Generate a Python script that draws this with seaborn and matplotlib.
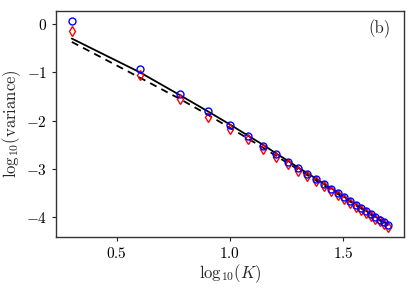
import numpy as np
import pandas as pd
import matplotlib
matplotlib.use("Agg")
import matplotlib.pyplot as plt
import seaborn as sns

K = [2, 4, 6, 8, 10, 12, 14, 16, 18, 20, 22, 24, 26, 28, 30, 32, 34, 36, 38, 40, 42, 44, 46, 48, 50]
blue_vals = [0.06, -0.93, -1.44, -1.81, -2.09, -2.32, -2.52, -2.70, -2.85, -2.98, -3.10, -3.21, -3.31,
             -3.41, -3.50, -3.59, -3.66, -3.74, -3.81, -3.87, -3.93, -3.99, -4.05, -4.10, -4.16]
red_vals = [-0.15, -1.06, -1.55, -1.92, -2.18, -2.39, -2.58, -2.76, -2.90, -3.04, -3.15, -3.26, -3.36,
            -3.46, -3.55, -3.63, -3.71, -3.78, -3.85, -3.91, -3.97, -4.03, -4.08, -4.14, -4.20]
solid_vals = [-0.30, -1.00, -1.47, -1.81, -2.08, -2.31, -2.50, -2.68, -2.83, -2.97, -3.09, -3.20, -3.31,
              -3.40, -3.49, -3.58, -3.66, -3.73, -3.80, -3.87, -3.93, -3.99, -4.05, -4.10, -4.16]
dashed_vals = [-0.37, -1.11, -1.55, -1.88, -2.15, -2.37, -2.56, -2.73, -2.88, -3.01, -3.13, -3.24, -3.34,
               -3.43, -3.52, -3.61, -3.68, -3.76, -3.82, -3.89, -3.95, -4.01, -4.07, -4.12, -4.18]

sns.set_style("ticks")
plt.rcParams.update({
    "font.family": "serif",
    "font.serif": ["cmr10"],
    "mathtext.fontset": "cm",
    "axes.formatter.use_mathtext": True,
    "axes.unicode_minus": True,
})

x = np.log10(K)
df = pd.DataFrame({"x": x, "blue": blue_vals, "red": red_vals,
                   "solid": solid_vals, "dashed": dashed_vals})

fig = plt.figure(figsize=(4.15, 2.87), dpi=100)
ax = fig.add_axes([0.135, 0.174, 0.838, 0.788])

sns.lineplot(data=df, x="x", y="solid", ax=ax, color="black", lw=1.3)
sns.lineplot(data=df, x="x", y="dashed", ax=ax, color="black", lw=1.3, linestyle=(0, (4, 3)))
ax.plot(df["x"], df["red"], linestyle="none", marker="d", markersize=5.5,
        markerfacecolor="none", markeredgecolor="red", markeredgewidth=1.0)
ax.plot(df["x"], df["blue"], linestyle="none", marker="o", markersize=5,
        markerfacecolor="none", markeredgecolor="blue", markeredgewidth=1.0)

ax.set_xticks([0.5, 1.0, 1.5])
ax.set_yticks([0, -1, -2, -3, -4])
ax.tick_params(labelsize=11, length=3, width=0.8, direction="out", colors="#222222", labelcolor="black")
for s in ax.spines.values():
    s.set_linewidth(1.0)
    s.set_color("#333333")
ax.set_xlabel(r"$\mathrm{log}_{10}(K)$", fontsize=12, labelpad=1)
ax.set_ylabel(r"$\mathrm{log}_{10}(\mathrm{variance})$", fontsize=12, labelpad=2)
ax.text(0.93, 0.92, "(b)", transform=ax.transAxes, fontsize=12, ha="center", va="center")
ax.margins(x=0.05, y=0.05)

fig.savefig("out.png", dpi=100)
